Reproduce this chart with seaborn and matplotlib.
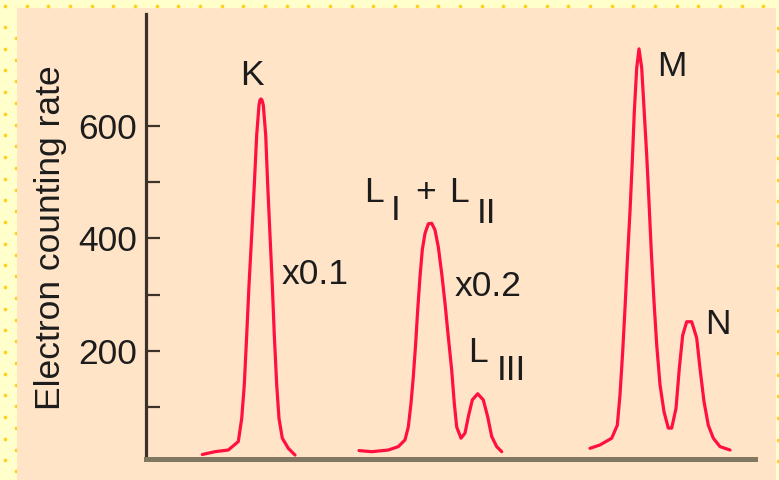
import matplotlib
matplotlib.use("Agg")
import matplotlib.pyplot as plt
from matplotlib.patches import Rectangle
import numpy as np
import pandas as pd
import seaborn as sns

# Electron spectrum traces (energy in arbitrary units, counting rate as plotted)
k_energy = [56.3, 69, 82.3, 92.3, 95.7, 98.3, 100.7, 103, 105.7, 108.3, 110.7, 113,
            114, 115, 116, 117.3, 119.7, 121.7, 124, 126.3, 128.3, 130.7, 133,
            136.3, 142.3, 149]
k_rate = [16, 21, 24, 39, 80, 140, 228, 317, 406, 495, 584, 637,
          646, 648, 646, 637, 584, 495, 406, 317, 228, 140, 80,
          45, 27, 15]

l_energy = [213, 225.7, 242.3, 252.3, 259, 262.3, 265, 267.3, 269.7, 271.7, 274,
            276.3, 279, 282.3, 285.7, 289, 292.3, 295.7, 299, 302.3, 305.7, 308.3,
            310.7, 315, 319, 322.3, 326.3, 331.7, 337.3, 341.7, 345.7, 350.7, 355.7]
l_rate = [23, 21, 24, 30, 42, 65, 107, 154, 214, 273, 332,
          380, 409, 426, 427, 415, 385, 338, 285, 225, 166, 107,
          65, 45, 54, 83, 113, 124, 113, 83, 48, 30, 21]

mn_energy = [444, 454, 465.7, 471.3, 474, 476.7, 479, 481.3, 484, 486.3, 488.3, 490.7,
             493, 495.7, 498, 500.7, 503, 505.3, 508, 510.7, 514, 518, 522.3, 525.7,
             530, 533.3, 536.7, 540.7, 545.7, 550.7, 554, 558, 562.3, 567.3, 574, 584]
mn_rate = [27, 33, 45, 68, 122, 199, 276, 359, 448, 537, 625, 703,
           737, 703, 632, 548, 465, 377, 288, 211, 140, 92, 63, 63,
           98, 169, 228, 252, 252, 223, 169, 110, 68, 45, 30, 24]

y_ticks = [100, 200, 300, 400, 500, 600]
y_tick_labels = ["", "200", "", "400", "", "600"]
y_title = "Electron counting rate"

sns.set_style("ticks")
plt.rcParams["font.family"] = ["Liberation Sans", "DejaVu Sans"]

FS = 25.5
TXT = "#1c1c1c"
LINE = "#FF1040"

fig = plt.figure(figsize=(7.79, 4.8), dpi=100)
fig.patch.set_facecolor("#FFFFCC")

# page backdrop: beige panel with a dotted yellow frame
bg = fig.add_axes([0, 0, 1, 1], zorder=0)
bg.set_xlim(0, 779)
bg.set_ylim(480, 0)
bg.axis("off")
bg.add_patch(Rectangle((17, 8), 759, 480, facecolor="#FFE4C8", edgecolor="none", zorder=1))
top_x = np.arange(5, 779, 21.67)
bg.scatter(top_x, np.full(len(top_x), 5.5), s=7, color="#FFD21A", linewidths=0, zorder=2)
left_a = np.arange(27, 480, 21.67)
left_b = np.arange(38, 480, 21.67)
bg.scatter(np.full(len(left_a), 5), left_a, s=7, color="#FFD21A", linewidths=0, zorder=2)
bg.scatter(np.full(len(left_b), 16), left_b, s=7, color="#FFD21A", linewidths=0, zorder=0.5)
right_y = np.arange(28, 480, 21.67)
bg.scatter(np.full(len(right_y), 778), right_y, s=7, color="#FFD21A", linewidths=0, zorder=2)

ax = fig.add_axes([146 / 779, 21.5 / 480, 609 / 779, 444.5 / 480], zorder=2)
ax.set_facecolor("none")

for e, r in [(k_energy, k_rate), (l_energy, l_rate), (mn_energy, mn_rate)]:
    df = pd.DataFrame({"energy": e, "rate": r})
    sns.lineplot(data=df, x="energy", y="rate", ax=ax, color=LINE, linewidth=2.3,
                 sort=False, estimator=None)

ax.set_xlim(0, 609)
ax.set_ylim(8.9, 799)
ax.set_xticks([])
ax.set_yticks(y_ticks)
ax.set_yticklabels(y_tick_labels)
ax.tick_params(axis="y", direction="in", length=10, width=1.6, color="#3C3428",
               labelsize=FS, labelcolor=TXT, pad=6.5)
ax.set_xlabel("")
ax.set_ylabel("")
for s in ["top", "right"]:
    ax.spines[s].set_visible(False)
ax.spines["left"].set_color("#3A3228")
ax.spines["left"].set_linewidth(2.3)
ax.spines["bottom"].set_color("#807860")
ax.spines["bottom"].set_linewidth(3.6)

fig.text(50.5 / 779, 1 - 237.5 / 480, y_title, rotation=90, ha="center", va="center",
         fontsize=FS, color=TXT)

# peak labels
labels = [
    ("K", 94.4, 673), ("x0.1", 136, 319),
    ("L", 218, 465), ("I", 244.6, 433), ("+", 269, 465), ("L", 303.4, 465), ("II", 330.6, 427.5),
    ("x0.2", 309, 298), ("L", 322.4, 180.4), ("III", 350.6, 148.4),
    ("M", 511.3, 689), ("N", 559.3, 230),
]
for t, x, y in labels:
    ax.text(x, y, t, ha="left", va="baseline", fontsize=FS, color=TXT)

fig.savefig("out.png", dpi=100, facecolor=fig.get_facecolor())
